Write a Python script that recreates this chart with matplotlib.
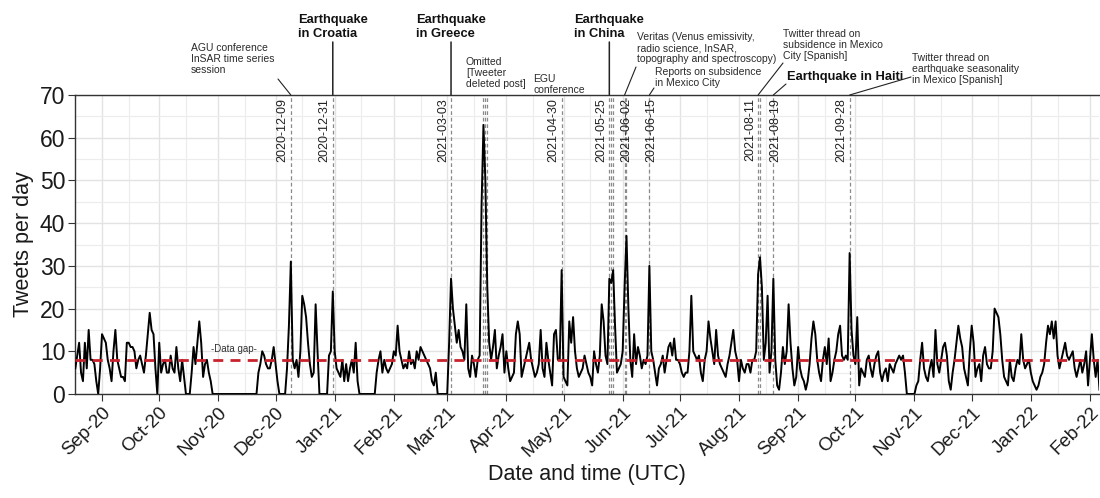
import matplotlib
matplotlib.use('Agg')
import matplotlib.pyplot as plt
import matplotlib.dates as mdates
import pandas as pd

plt.rcParams['font.family'] = ['Liberation Sans', 'DejaVu Sans']

# ---------------- data (daily tweet counts) ----------------
start_date = '2020-08-18'
aug20 = [6, 9, 12, 5, 3, 12, 6, 15, 8, 8, 7, 3, 0, 6]
sep20 = [14, 13, 12, 8, 6, 3, 10, 15, 8, 6, 4, 4, 3, 12, 12, 11, 11, 10, 6, 8,
         9, 7, 5, 9, 14, 19, 15, 14, 6, 0]
oct20 = [12, 5, 7, 8, 5, 5, 9, 6, 5, 11, 6, 3, 8, 4, 0, 0, 0, 5, 11, 7,
         12, 17, 12, 4, 7, 8, 5, 3, 0, 0, 0]
nov20 = [0] * 21 + [5, 7, 10, 9, 7, 6, 6, 8, 11]
dec20 = [7, 3, 0, 0, 0, 0, 6, 16, 31, 8, 6, 8, 4, 10, 23, 21, 18, 12, 7, 4,
         5, 21, 10, 0, 0, 0, 0, 0, 9, 10, 24]
jan21 = [10, 6, 5, 4, 8, 3, 7, 3, 6, 8, 5, 12, 3, 0, 0, 0, 0, 0, 0, 0,
         0, 0, 5, 8, 10, 5, 8, 6, 5, 6, 7]
feb21 = [10, 9, 16, 10, 8, 6, 7, 6, 10, 7, 8, 6, 10, 8, 11, 10, 9, 8, 7, 6,
         3, 2, 5, 0, 0, 0, 0, 0]
mar21 = [0, 12, 27, 20, 16, 12, 15, 11, 10, 8, 21, 6, 4, 9, 7, 4, 8, 9, 44, 63,
         50, 25, 12, 8, 11, 15, 6, 9, 11, 14, 5]
apr21 = [10, 6, 3, 4, 5, 14, 17, 14, 4, 6, 8, 10, 12, 8, 6, 4, 5, 7, 15, 6,
         4, 12, 8, 5, 2, 14, 15, 8, 8, 29]
may21 = [4, 3, 2, 17, 12, 18, 10, 6, 4, 5, 6, 9, 7, 5, 4, 2, 10, 7, 5, 9,
         21, 17, 9, 7, 27, 26, 29, 16, 5, 6, 7]
jun21 = [10, 25, 37, 20, 8, 4, 14, 7, 11, 9, 6, 8, 7, 9, 30, 10, 8, 5, 2, 6,
         7, 9, 5, 8, 11, 12, 9, 13, 8, 8]
jul21 = [7, 5, 4, 5, 5, 10, 23, 10, 9, 8, 9, 5, 3, 8, 10, 17, 13, 10, 7, 15,
         9, 7, 6, 5, 4, 7, 9, 12, 15, 10, 8]
aug21 = [3, 8, 6, 5, 7, 7, 5, 8, 8, 10, 28, 32, 25, 8, 12, 23, 5, 10, 27, 8,
         2, 1, 5, 11, 7, 10, 21, 12, 6, 2, 4]
sep21 = [11, 6, 4, 3, 1, 3, 7, 13, 17, 14, 8, 5, 3, 8, 11, 7, 13, 3, 5, 8,
         10, 14, 16, 9, 8, 9, 8, 33, 15, 9]
oct21 = [7, 18, 2, 6, 5, 4, 8, 9, 6, 4, 7, 9, 10, 5, 3, 5, 6, 3, 7, 6,
         5, 7, 8, 9, 8, 9, 5, 0, 0, 0, 0]
nov21 = [0, 2, 3, 8, 12, 6, 4, 3, 6, 8, 4, 15, 7, 5, 8, 11, 12, 9, 3, 1,
         5, 8, 12, 16, 13, 11, 6, 4, 2, 10]
dec21 = [16, 12, 4, 6, 7, 3, 9, 11, 7, 6, 6, 10, 20, 19, 18, 14, 8, 4, 3, 2,
         8, 4, 3, 6, 8, 7, 14, 8, 6, 7, 8]
jan22 = [5, 3, 2, 1, 2, 4, 5, 7, 12, 16, 14, 17, 13, 17, 9, 6, 8, 10, 12, 9,
         8, 9, 10, 6, 4, 6, 8, 5, 7, 10, 2]
feb22 = [8, 14, 8, 4, 8, 1]

tweets = (aug20 + sep20 + oct20 + nov20 + dec20 + jan21 + feb21 + mar21 + apr21
          + may21 + jun21 + jul21 + aug21 + sep21 + oct21 + nov21 + dec21
          + jan22 + feb22)
dates = pd.date_range(start_date, periods=len(tweets), freq='D')
mean_level = 8

event_dates = ['2020-12-09', '2020-12-31', '2021-03-03', '2021-03-20',
               '2021-03-21', '2021-03-22', '2021-04-30', '2021-05-25',
               '2021-05-26', '2021-05-27', '2021-06-02', '2021-06-03',
               '2021-06-15', '2021-08-11', '2021-08-12', '2021-08-19',
               '2021-09-28']
label_dates = ['2020-12-09', '2020-12-31', '2021-03-03', '2021-04-30',
               '2021-05-25', '2021-06-02', '2021-06-15', '2021-08-11',
               '2021-08-19', '2021-09-28']
label_centered = [False, False, False, False, False, True, True, False, True, False]

# ---------------- figure ----------------
W, H = 1100, 498
fig = plt.figure(figsize=(W / 100, H / 100), dpi=100)
ax = fig.add_axes([75 / W, 1 - 394 / H, (1099 - 75) / W, (394 - 95) / H])

ax.set_xlim(pd.Timestamp('2020-08-17 20:00'), pd.Timestamp('2022-02-05 18:00'))
ax.set_ylim(0, 70)

# grid
ax.set_axisbelow(True)
ax.xaxis.set_major_locator(mdates.MonthLocator())
ax.xaxis.set_minor_locator(mdates.DayLocator(bymonthday=15))
ax.xaxis.set_major_formatter(mdates.DateFormatter('%b-%y'))
ax.set_yticks(range(0, 71, 10))
ax.set_yticks(range(5, 70, 10), minor=True)
ax.grid(which='major', color='#e3e3e3', lw=1.0)
ax.grid(which='minor', color='#ececec', lw=0.8)

# event lines
for d in event_dates:
    ax.axvline(pd.Timestamp(d), color='#8a8a8a', lw=0.9, dashes=(3, 2.2), zorder=2)

# mean line
ax.axhline(mean_level, color='#c8232c', lw=2.0, dashes=(3.6, 2.6), zorder=4)

# data
ax.plot(dates, tweets, color='black', lw=1.4, zorder=3)

# date labels
for d, c in zip(label_dates, label_centered):
    if c:
        ax.annotate(d, xy=(pd.Timestamp(d), 69.3), xytext=(1.5, 0),
                    textcoords='offset points', rotation=90, ha='center',
                    va='top', fontsize=9, color='#222222')
    else:
        ax.annotate(d, xy=(pd.Timestamp(d), 69.3), xytext=(-1.5, 0),
                    textcoords='offset points', rotation=90, ha='right',
                    va='top', fontsize=9, color='#222222')

ax.text(pd.Timestamp('2020-11-09'), 10.6, '-Data gap-', fontsize=7,
        color='#333333', ha='center', va='center')

# spines / ticks
for s in ['left', 'bottom', 'top']:
    ax.spines[s].set_color('#333333')
    ax.spines[s].set_linewidth(1.0)
ax.spines['right'].set_visible(False)
ax.tick_params(axis='y', which='major', length=5, color='#333333',
               labelsize=16.5, labelcolor='#1a1a1a', pad=2)
ax.tick_params(axis='y', which='minor', length=0)
ax.tick_params(axis='x', which='major', length=5, color='#333333',
               labelsize=13.5, labelcolor='#1a1a1a', pad=2)
ax.tick_params(axis='x', which='minor', length=0)
for lab in ax.get_xticklabels():
    lab.set_rotation(45)
    lab.set_ha('right')
    lab.set_rotation_mode('anchor')

ax.set_ylabel('Tweets per day', fontsize=15.5, color='#1a1a1a', labelpad=4)
ax.set_xlabel('Date and time (UTC)', fontsize=15.5, color='#1a1a1a', labelpad=3)


# ---------------- top annotations ----------------
def px(x, y):
    return (x, H - y)


bold_events = [('Earthquake\nin Croatia', '2020-12-31'),
               ('Earthquake\nin Greece', '2021-03-03'),
               ('Earthquake\nin China', '2021-05-25')]
for txt, d in bold_events:
    xd = mdates.date2num(pd.Timestamp(d))
    ax.annotate(txt, xy=(xd, H - 40), xycoords=('data', 'figure pixels'),
                ha='center', va='bottom', multialignment='left',
                fontsize=9.3, fontweight='bold', color='#111111',
                linespacing=1.2, annotation_clip=False)
    ax.annotate('', xy=(xd, 1.0), xycoords=('data', 'axes fraction'),
                xytext=(xd, H - 42), textcoords=('data', 'figure pixels'),
                arrowprops=dict(arrowstyle='-', color='#222222', lw=1.1,
                                shrinkA=0, shrinkB=0),
                annotation_clip=False)

notes = [
    ('AGU conference\nInSAR time series\nsession', 191, 43, False),
    ('Omitted\n[Tweeter\ndeleted post]', 466, 57, False),
    ('EGU\nconference', 533, 74, False),
    ('Veritas (Venus emissivity,\nradio science, InSAR,\ntopography and spectroscopy)', 637, 32, False),
    ('Reports on subsidence\nin Mexico City', 655, 67, False),
    ('Twitter thread on\nsubsidence in Mexico\nCity [Spanish]', 783, 29, False),
    ('Earthquake in Haiti', 787, 71, True),
    ('Twitter thread on\nearthquake seasonality\nin Mexico [Spanish]', 912, 53, False),
]
for txt, x, y, bold in notes:
    fig.text(x / W, 1 - y / H, txt, ha='left', va='top',
             fontsize=9.3 if bold else 7.5,
             fontweight='bold' if bold else 'normal',
             color='#111111' if bold else '#2a2a2a', linespacing=1.15)

connectors = [
    ('2020-12-09', 278, 79),
    ('2021-06-02', 636, 67),
    ('2021-06-15', 654, 88),
    ('2021-08-11', 783, 63),
    ('2021-08-19', 786, 84),
    ('2021-09-28', 911, 77),
]
for d, x, y in connectors:
    xd = mdates.date2num(pd.Timestamp(d))
    ax.annotate('', xy=(xd, 1.0), xycoords=('data', 'axes fraction'),
                xytext=px(x, y), textcoords='figure pixels',
                arrowprops=dict(arrowstyle='-', color='#222222', lw=0.8,
                                shrinkA=0, shrinkB=0),
                annotation_clip=False)

fig.savefig('out.png', dpi=100)
